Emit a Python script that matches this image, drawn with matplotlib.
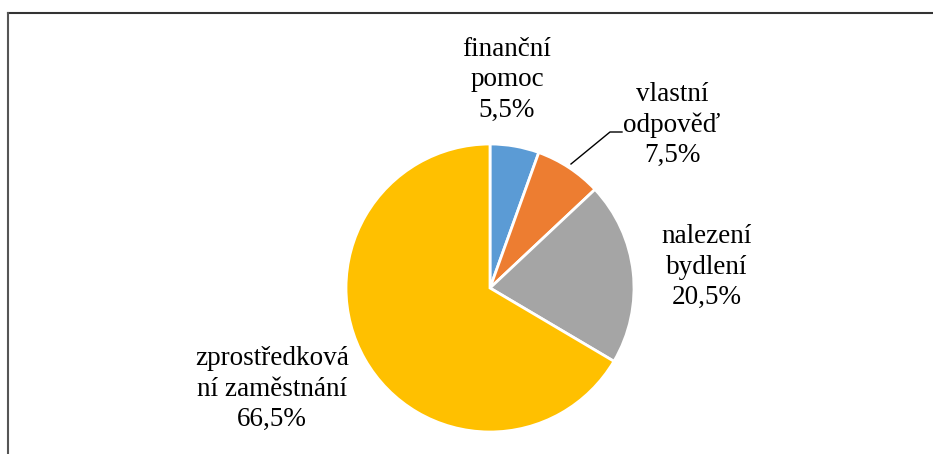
import matplotlib.pyplot as plt
from matplotlib.lines import Line2D

# data
categories = ["finanční\npomoc", "vlastní\nodpověď", "nalezení\nbydlení", "zprostředková\nní zaměstnání"]
shares = [5.5, 7.5, 20.5, 66.5]
colors = ["#5B9BD5", "#ED7D31", "#A5A5A5", "#FFC000"]

W, H = 933, 454
fig = plt.figure(figsize=(W / 100, H / 100), dpi=100)
ax = fig.add_axes([0, 0, 1, 1])

# pie in pixel coords (y up)
cx, cy, r = 490, H - 288, 144
ax.pie(shares, colors=colors, startangle=90, counterclock=False,
       center=(cx, cy), radius=r, frame=True,
       wedgeprops=dict(edgecolor="white", linewidth=2))
ax.set_xlim(0, W)
ax.set_ylim(0, H)
ax.set_aspect("equal")
ax.axis("off")

# label positions (pixel, from top)
label_pos = [(507, 80), (672, 125), (707, 267), (272, 389)]
for cat, val, (x, y) in zip(categories, shares, label_pos):
    txt = cat + "\n" + f"{val:.1f}".replace(".", ",") + "%"
    ax.text(x, H - y, txt, ha="center", va="center", fontsize=19.5,
            family="Liberation Serif", linespacing=1.29, color="black")

# leader line for the small orange slice
ax.plot([571, 610, 622], [H - 164, H - 132, H - 132], color="black", lw=1)

# chart border (top and left only visible)
fig.add_artist(Line2D([8 / W, 1], [1 - 13 / H, 1 - 13 / H], color="#333333", lw=1.5))
fig.add_artist(Line2D([8 / W, 8 / W], [0, 1 - 13 / H], color="#555555", lw=1.5))

fig.savefig("out.png", dpi=100, facecolor="white")
